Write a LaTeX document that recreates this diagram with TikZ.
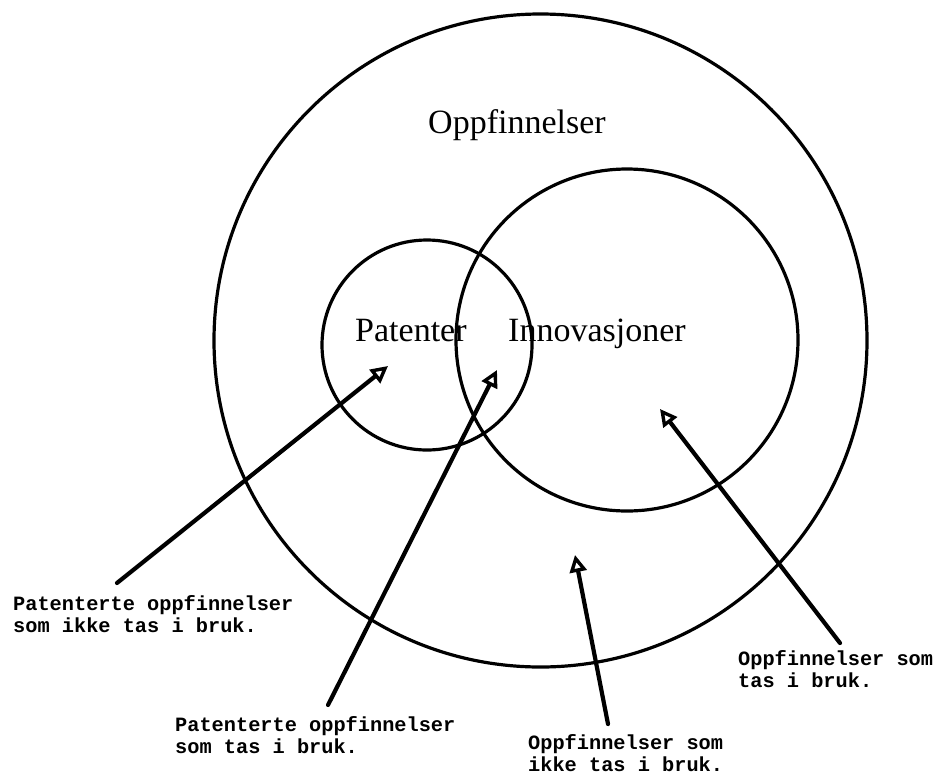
\documentclass[tikz,border=0pt]{standalone}
\usepackage{fontspec}
\setmainfont{Liberation Serif}
\setmonofont{Liberation Mono}
\usetikzlibrary{arrows.meta}
\begin{document}
\begin{tikzpicture}[x=1pt,y=-1pt,
  circ/.style={draw,line width=3.2pt},
  ptr/.style={line width=4.2pt,line cap=round,-{Triangle[open,length=17pt,width=17pt,line width=3.4pt]}},
  lab/.style={font=\fontsize{20.3}{22}\selectfont\ttfamily\bfseries,align=left,anchor=north west,inner sep=0pt},
  big/.style={font=\fontsize{34}{40}\selectfont,anchor=base west,inner sep=0pt}]
\useasboundingbox[fill=white] (0,0) rectangle (938,780);
% circles
\coordinate (cAll) at (540.5,340.5);
\coordinate (cPat) at (427,345);
\coordinate (cInn) at (627,340);
\draw[circ] (cAll) circle[radius=326.5pt];
\draw[circ] (cPat) circle[radius=105pt];
\draw[circ] (cInn) circle[radius=171pt];
% titles
\node[big] (tAll) at (428,133) {Oppfinnelser};
\node[big] (tPat) at (355,341) {Patenter};
\node[big] (tInn) at (508,341) {Innovasjoner};
% labels
\node[lab] (l1) at (13,595) {Patenterte oppfinnelser\\som ikke tas i bruk.};
\node[lab] (l2) at (175,716) {Patenterte oppfinnelser\\som tas i bruk.};
\node[lab] (l3) at (528,734) {Oppfinnelser som\\ikke tas i bruk.};
\node[lab] (l4) at (738,650) {Oppfinnelser som\\tas i bruk.};
% arrow ends
\coordinate (t1) at (117,583);
\coordinate (h1) at (388,366);
\coordinate (t2) at (328,705);
\coordinate (h2) at (497,370);
\coordinate (t3) at (608,724);
\coordinate (h3) at (575,555);
\coordinate (t4) at (840,643);
\coordinate (h4) at (660,409);
\draw[ptr] (t1) -- (h1);
\draw[ptr] (t2) -- (h2);
\draw[ptr] (t3) -- (h3);
\draw[ptr] (t4) -- (h4);
\end{tikzpicture}
\end{document}
